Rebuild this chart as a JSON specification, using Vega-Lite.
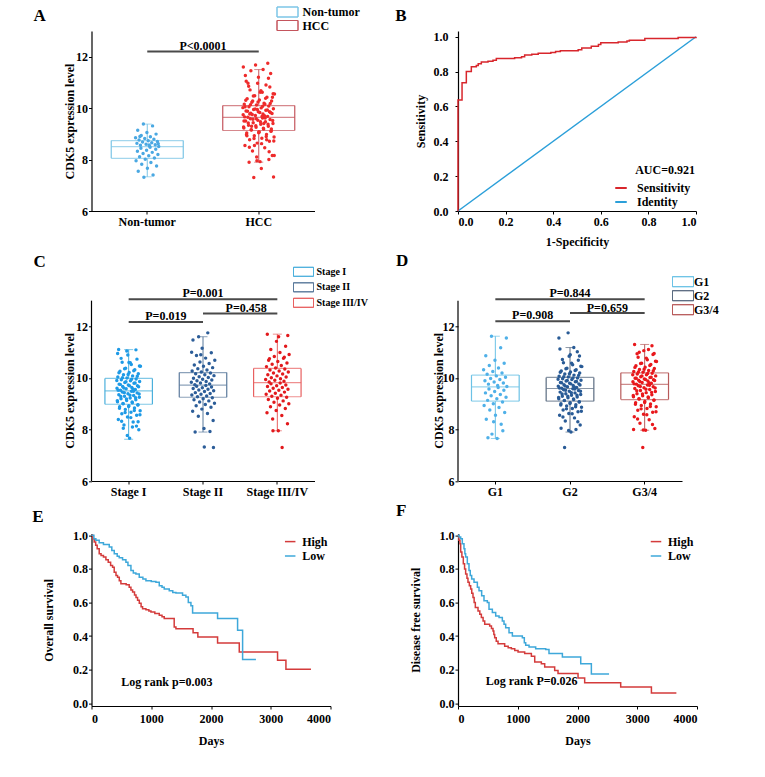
{
"$schema": "https://vega.github.io/schema/vega-lite/v6.json",
"padding": {"left": 31.5, "top": 6, "right": 5, "bottom": 5},
"background": "white",
"config": {
 "font": "Liberation Serif",
 "view": {"stroke": null},
 "axis": {"labelFont": "Liberation Serif", "labelFontSize": 12, "labelFontWeight": "bold", "labelColor": "#000", "titleFont": "Liberation Serif", "titleFontSize": 12, "titleFontWeight": "bold", "titleColor": "#000", "domainColor": "#000", "tickColor": "#000", "grid": false, "tickSize": 3, "labelPadding": 2, "domainWidth": 1.2, "labelOverlap": false},
 "legend": {"labelFont": "Liberation Serif", "labelFontWeight": "bold", "labelFontSize": 12, "labelColor": "#000"},
 "title": {"font": "Liberation Serif", "fontSize": 17, "fontWeight": "bold", "color": "#000", "anchor": "start", "frame": "group"},
 "text": {"font": "Liberation Serif", "fontWeight": "bold", "fontSize": 12, "color": "#000"}
},
"datasets": {
 "boxA": [{"g":"N","q1":8.05,"med":8.5,"q3":8.74,"lo":7.33,"hi":9.38},{"g":"H","q1":9.13,"med":9.64,"q3":10.1,"lo":7.9,"hi":11.5}],
 "boxC": [{"g":"S1","q1":8.98,"med":9.5,"q3":9.98,"lo":7.62,"hi":11.1},{"g":"S2","q1":9.25,"med":9.72,"q3":10.21,"lo":7.9,"hi":11.6},{"g":"S3","q1":9.27,"med":9.82,"q3":10.37,"lo":7.95,"hi":11.7}],
 "boxD": [{"g":"G1","q1":9.1,"med":9.65,"q3":10.11,"lo":7.65,"hi":11.62},{"g":"G2","q1":9.1,"med":9.59,"q3":10.02,"lo":7.9,"hi":11.18},{"g":"G3","q1":9.16,"med":9.75,"q3":10.2,"lo":7.97,"hi":11.3}],
 "ptsA": [
{"g":"N","v":8.48},{"g":"N","v":8.44},{"g":"N","v":8.40},{"g":"N","v":8.36},{"g":"N","v":8.32},{"g":"N","v":8.28},{"g":"N","v":8.24},{"g":"N","v":8.20},{"g":"N","v":8.15},{"g":"N","v":8.11},{"g":"N","v":8.06},{"g":"N","v":8.01},{"g":"N","v":7.95},{"g":"N","v":7.89},{"g":"N","v":7.82},{"g":"N","v":7.75},{"g":"N","v":7.66},{"g":"N","v":7.55},{"g":"N","v":7.40},{"g":"N","v":7.31},
{"g":"N","v":8.51},{"g":"N","v":8.53},{"g":"N","v":8.56},{"g":"N","v":8.58},{"g":"N","v":8.60},{"g":"N","v":8.63},{"g":"N","v":8.65},{"g":"N","v":8.68},{"g":"N","v":8.70},{"g":"N","v":8.73},{"g":"N","v":8.76},{"g":"N","v":8.79},{"g":"N","v":8.82},{"g":"N","v":8.85},{"g":"N","v":8.89},{"g":"N","v":8.94},{"g":"N","v":8.99},{"g":"N","v":9.05},{"g":"N","v":9.14},{"g":"N","v":9.31},
{"g":"N","v":9.38},{"g":"N","v":8.62},{"g":"N","v":8.57},{"g":"N","v":8.90},
{"g":"H","v":9.62},{"g":"H","v":9.59},{"g":"H","v":9.56},{"g":"H","v":9.53},{"g":"H","v":9.50},{"g":"H","v":9.47},{"g":"H","v":9.43},{"g":"H","v":9.40},{"g":"H","v":9.37},{"g":"H","v":9.33},{"g":"H","v":9.30},{"g":"H","v":9.26},{"g":"H","v":9.23},{"g":"H","v":9.19},{"g":"H","v":9.15},{"g":"H","v":9.11},{"g":"H","v":9.07},{"g":"H","v":9.03},{"g":"H","v":8.98},{"g":"H","v":8.93},{"g":"H","v":8.88},{"g":"H","v":8.83},{"g":"H","v":8.77},{"g":"H","v":8.71},{"g":"H","v":8.64},{"g":"H","v":8.55},{"g":"H","v":8.46},{"g":"H","v":8.33},{"g":"H","v":8.16},{"g":"H","v":7.92},
{"g":"H","v":9.65},{"g":"H","v":9.68},{"g":"H","v":9.71},{"g":"H","v":9.74},{"g":"H","v":9.77},{"g":"H","v":9.80},{"g":"H","v":9.83},{"g":"H","v":9.86},{"g":"H","v":9.89},{"g":"H","v":9.92},{"g":"H","v":9.95},{"g":"H","v":9.98},{"g":"H","v":10.01},{"g":"H","v":10.05},{"g":"H","v":10.08},{"g":"H","v":10.12},{"g":"H","v":10.15},{"g":"H","v":10.19},{"g":"H","v":10.23},{"g":"H","v":10.28},{"g":"H","v":10.32},{"g":"H","v":10.37},{"g":"H","v":10.42},{"g":"H","v":10.48},{"g":"H","v":10.55},{"g":"H","v":10.62},{"g":"H","v":10.71},{"g":"H","v":10.82},{"g":"H","v":10.97},{"g":"H","v":11.27},
{"g":"H","v":9.62},{"g":"H","v":9.57},{"g":"H","v":9.52},{"g":"H","v":9.47},{"g":"H","v":9.42},{"g":"H","v":9.37},{"g":"H","v":9.32},{"g":"H","v":9.27},{"g":"H","v":9.22},{"g":"H","v":9.16},{"g":"H","v":9.10},{"g":"H","v":9.04},{"g":"H","v":8.97},{"g":"H","v":8.90},{"g":"H","v":8.82},{"g":"H","v":8.72},{"g":"H","v":8.62},{"g":"H","v":8.48},{"g":"H","v":8.30},{"g":"H","v":7.95},
{"g":"H","v":9.66},{"g":"H","v":9.70},{"g":"H","v":9.75},{"g":"H","v":9.79},{"g":"H","v":9.83},{"g":"H","v":9.88},{"g":"H","v":9.93},{"g":"H","v":9.97},{"g":"H","v":10.02},{"g":"H","v":10.07},{"g":"H","v":10.13},{"g":"H","v":10.18},{"g":"H","v":10.24},{"g":"H","v":10.31},{"g":"H","v":10.38},{"g":"H","v":10.47},{"g":"H","v":10.56},{"g":"H","v":10.68},{"g":"H","v":10.85},{"g":"H","v":11.16},
{"g":"H","v":9.59},{"g":"H","v":9.50},{"g":"H","v":9.40},{"g":"H","v":9.30},{"g":"H","v":9.19},{"g":"H","v":9.07},{"g":"H","v":8.93},{"g":"H","v":8.77},{"g":"H","v":8.55},{"g":"H","v":8.16},
{"g":"H","v":9.68},{"g":"H","v":9.77},{"g":"H","v":9.86},{"g":"H","v":9.95},{"g":"H","v":10.05},{"g":"H","v":10.15},{"g":"H","v":10.28},{"g":"H","v":10.42},{"g":"H","v":10.62},{"g":"H","v":10.97},
{"g":"H","v":11.75},{"g":"H","v":11.68},{"g":"H","v":11.60},{"g":"H","v":11.50},{"g":"H","v":11.45},{"g":"H","v":11.35},{"g":"H","v":11.20},{"g":"H","v":11.05},{"g":"H","v":10.90},{"g":"H","v":7.30},{"g":"H","v":7.32},{"g":"H","v":7.65},{"g":"H","v":7.90},{"g":"H","v":8.00},{"g":"H","v":8.10}
 ],
 "ptsC": [
{"g":"S1","v":9.48},{"g":"S1","v":9.45},{"g":"S1","v":9.42},{"g":"S1","v":9.39},{"g":"S1","v":9.35},{"g":"S1","v":9.32},{"g":"S1","v":9.29},{"g":"S1","v":9.25},{"g":"S1","v":9.22},{"g":"S1","v":9.19},{"g":"S1","v":9.15},{"g":"S1","v":9.12},{"g":"S1","v":9.08},{"g":"S1","v":9.04},{"g":"S1","v":9.00},{"g":"S1","v":8.96},{"g":"S1","v":8.92},{"g":"S1","v":8.88},{"g":"S1","v":8.83},{"g":"S1","v":8.78},{"g":"S1","v":8.73},{"g":"S1","v":8.67},{"g":"S1","v":8.61},{"g":"S1","v":8.55},{"g":"S1","v":8.48},{"g":"S1","v":8.39},{"g":"S1","v":8.29},{"g":"S1","v":8.17},{"g":"S1","v":7.99},{"g":"S1","v":7.66},
{"g":"S1","v":9.52},{"g":"S1","v":9.55},{"g":"S1","v":9.58},{"g":"S1","v":9.60},{"g":"S1","v":9.63},{"g":"S1","v":9.67},{"g":"S1","v":9.70},{"g":"S1","v":9.73},{"g":"S1","v":9.76},{"g":"S1","v":9.79},{"g":"S1","v":9.82},{"g":"S1","v":9.86},{"g":"S1","v":9.89},{"g":"S1","v":9.93},{"g":"S1","v":9.96},{"g":"S1","v":10.00},{"g":"S1","v":10.04},{"g":"S1","v":10.08},{"g":"S1","v":10.12},{"g":"S1","v":10.16},{"g":"S1","v":10.21},{"g":"S1","v":10.26},{"g":"S1","v":10.32},{"g":"S1","v":10.38},{"g":"S1","v":10.45},{"g":"S1","v":10.52},{"g":"S1","v":10.61},{"g":"S1","v":10.73},{"g":"S1","v":10.89},{"g":"S1","v":11.10},
{"g":"S1","v":9.48},{"g":"S1","v":9.43},{"g":"S1","v":9.38},{"g":"S1","v":9.33},{"g":"S1","v":9.28},{"g":"S1","v":9.23},{"g":"S1","v":9.18},{"g":"S1","v":9.12},{"g":"S1","v":9.07},{"g":"S1","v":9.01},{"g":"S1","v":8.95},{"g":"S1","v":8.89},{"g":"S1","v":8.82},{"g":"S1","v":8.74},{"g":"S1","v":8.66},{"g":"S1","v":8.57},{"g":"S1","v":8.46},{"g":"S1","v":8.32},{"g":"S1","v":8.13},{"g":"S1","v":7.77},
{"g":"S1","v":9.52},{"g":"S1","v":9.57},{"g":"S1","v":9.61},{"g":"S1","v":9.66},{"g":"S1","v":9.70},{"g":"S1","v":9.75},{"g":"S1","v":9.80},{"g":"S1","v":9.85},{"g":"S1","v":9.90},{"g":"S1","v":9.95},{"g":"S1","v":10.01},{"g":"S1","v":10.07},{"g":"S1","v":10.13},{"g":"S1","v":10.20},{"g":"S1","v":10.28},{"g":"S1","v":10.36},{"g":"S1","v":10.46},{"g":"S1","v":10.59},{"g":"S1","v":10.76},{"g":"S1","v":11.09},
{"g":"S1","v":11.05},{"g":"S1","v":10.95},{"g":"S1","v":8.10},{"g":"S1","v":8.05},{"g":"S1","v":8.30},{"g":"S1","v":10.60},
{"g":"S2","v":9.71},{"g":"S2","v":9.68},{"g":"S2","v":9.65},{"g":"S2","v":9.62},{"g":"S2","v":9.59},{"g":"S2","v":9.56},{"g":"S2","v":9.53},{"g":"S2","v":9.50},{"g":"S2","v":9.47},{"g":"S2","v":9.43},{"g":"S2","v":9.40},{"g":"S2","v":9.37},{"g":"S2","v":9.34},{"g":"S2","v":9.30},{"g":"S2","v":9.27},{"g":"S2","v":9.23},{"g":"S2","v":9.19},{"g":"S2","v":9.15},{"g":"S2","v":9.11},{"g":"S2","v":9.07},{"g":"S2","v":9.02},{"g":"S2","v":8.97},{"g":"S2","v":8.92},{"g":"S2","v":8.86},{"g":"S2","v":8.79},{"g":"S2","v":8.71},{"g":"S2","v":8.62},{"g":"S2","v":8.51},{"g":"S2","v":8.35},{"g":"S2","v":8.04},
{"g":"S2","v":9.74},{"g":"S2","v":9.77},{"g":"S2","v":9.80},{"g":"S2","v":9.83},{"g":"S2","v":9.86},{"g":"S2","v":9.89},{"g":"S2","v":9.92},{"g":"S2","v":9.95},{"g":"S2","v":9.99},{"g":"S2","v":10.02},{"g":"S2","v":10.05},{"g":"S2","v":10.09},{"g":"S2","v":10.12},{"g":"S2","v":10.16},{"g":"S2","v":10.19},{"g":"S2","v":10.23},{"g":"S2","v":10.27},{"g":"S2","v":10.31},{"g":"S2","v":10.36},{"g":"S2","v":10.40},{"g":"S2","v":10.45},{"g":"S2","v":10.50},{"g":"S2","v":10.56},{"g":"S2","v":10.62},{"g":"S2","v":10.69},{"g":"S2","v":10.77},{"g":"S2","v":10.87},{"g":"S2","v":10.98},{"g":"S2","v":11.15},{"g":"S2","v":11.47},
{"g":"S2","v":11.75},{"g":"S2","v":11.60},{"g":"S2","v":7.30},{"g":"S2","v":7.32},{"g":"S2","v":7.90},{"g":"S2","v":7.92},{"g":"S2","v":10.90},{"g":"S2","v":11.00},
{"g":"S3","v":9.80},{"g":"S3","v":9.77},{"g":"S3","v":9.73},{"g":"S3","v":9.70},{"g":"S3","v":9.67},{"g":"S3","v":9.63},{"g":"S3","v":9.60},{"g":"S3","v":9.56},{"g":"S3","v":9.52},{"g":"S3","v":9.49},{"g":"S3","v":9.45},{"g":"S3","v":9.41},{"g":"S3","v":9.37},{"g":"S3","v":9.33},{"g":"S3","v":9.29},{"g":"S3","v":9.25},{"g":"S3","v":9.21},{"g":"S3","v":9.16},{"g":"S3","v":9.11},{"g":"S3","v":9.06},{"g":"S3","v":9.00},{"g":"S3","v":8.95},{"g":"S3","v":8.88},{"g":"S3","v":8.81},{"g":"S3","v":8.74},{"g":"S3","v":8.65},{"g":"S3","v":8.54},{"g":"S3","v":8.41},{"g":"S3","v":8.22},{"g":"S3","v":7.95},
{"g":"S3","v":9.84},{"g":"S3","v":9.87},{"g":"S3","v":9.91},{"g":"S3","v":9.94},{"g":"S3","v":9.97},{"g":"S3","v":10.01},{"g":"S3","v":10.04},{"g":"S3","v":10.08},{"g":"S3","v":10.12},{"g":"S3","v":10.15},{"g":"S3","v":10.19},{"g":"S3","v":10.23},{"g":"S3","v":10.27},{"g":"S3","v":10.31},{"g":"S3","v":10.35},{"g":"S3","v":10.39},{"g":"S3","v":10.44},{"g":"S3","v":10.48},{"g":"S3","v":10.53},{"g":"S3","v":10.58},{"g":"S3","v":10.64},{"g":"S3","v":10.69},{"g":"S3","v":10.76},{"g":"S3","v":10.83},{"g":"S3","v":10.91},{"g":"S3","v":10.99},{"g":"S3","v":11.10},{"g":"S3","v":11.23},{"g":"S3","v":11.42},{"g":"S3","v":11.70},
{"g":"S3","v":7.30},{"g":"S3","v":7.95},{"g":"S3","v":11.65},{"g":"S3","v":11.60},{"g":"S3","v":10.75},{"g":"S3","v":10.80}
 ],
 "ptsD": [
{"g":"G1","v":9.63},{"g":"G1","v":9.57},{"g":"G1","v":9.52},{"g":"G1","v":9.47},{"g":"G1","v":9.42},{"g":"G1","v":9.36},{"g":"G1","v":9.31},{"g":"G1","v":9.25},{"g":"G1","v":9.19},{"g":"G1","v":9.13},{"g":"G1","v":9.07},{"g":"G1","v":9.00},{"g":"G1","v":8.93},{"g":"G1","v":8.85},{"g":"G1","v":8.76},{"g":"G1","v":8.66},{"g":"G1","v":8.55},{"g":"G1","v":8.40},{"g":"G1","v":8.20},{"g":"G1","v":7.82},
{"g":"G1","v":9.67},{"g":"G1","v":9.71},{"g":"G1","v":9.76},{"g":"G1","v":9.80},{"g":"G1","v":9.84},{"g":"G1","v":9.89},{"g":"G1","v":9.94},{"g":"G1","v":9.98},{"g":"G1","v":10.03},{"g":"G1","v":10.08},{"g":"G1","v":10.14},{"g":"G1","v":10.19},{"g":"G1","v":10.25},{"g":"G1","v":10.32},{"g":"G1","v":10.39},{"g":"G1","v":10.48},{"g":"G1","v":10.57},{"g":"G1","v":10.69},{"g":"G1","v":10.86},{"g":"G1","v":11.17},
{"g":"G1","v":11.62},{"g":"G1","v":11.55},{"g":"G1","v":7.65},{"g":"G1","v":7.68},{"g":"G1","v":7.95},{"g":"G1","v":8.30},
{"g":"G2","v":9.58},{"g":"G2","v":9.54},{"g":"G2","v":9.51},{"g":"G2","v":9.48},{"g":"G2","v":9.45},{"g":"G2","v":9.42},{"g":"G2","v":9.39},{"g":"G2","v":9.36},{"g":"G2","v":9.33},{"g":"G2","v":9.29},{"g":"G2","v":9.26},{"g":"G2","v":9.23},{"g":"G2","v":9.19},{"g":"G2","v":9.16},{"g":"G2","v":9.12},{"g":"G2","v":9.08},{"g":"G2","v":9.04},{"g":"G2","v":9.00},{"g":"G2","v":8.96},{"g":"G2","v":8.91},{"g":"G2","v":8.86},{"g":"G2","v":8.81},{"g":"G2","v":8.76},{"g":"G2","v":8.69},{"g":"G2","v":8.62},{"g":"G2","v":8.55},{"g":"G2","v":8.45},{"g":"G2","v":8.33},{"g":"G2","v":8.17},{"g":"G2","v":7.90},
{"g":"G2","v":9.60},{"g":"G2","v":9.63},{"g":"G2","v":9.66},{"g":"G2","v":9.68},{"g":"G2","v":9.71},{"g":"G2","v":9.74},{"g":"G2","v":9.77},{"g":"G2","v":9.79},{"g":"G2","v":9.82},{"g":"G2","v":9.85},{"g":"G2","v":9.88},{"g":"G2","v":9.91},{"g":"G2","v":9.94},{"g":"G2","v":9.97},{"g":"G2","v":10.00},{"g":"G2","v":10.04},{"g":"G2","v":10.07},{"g":"G2","v":10.11},{"g":"G2","v":10.15},{"g":"G2","v":10.19},{"g":"G2","v":10.23},{"g":"G2","v":10.27},{"g":"G2","v":10.32},{"g":"G2","v":10.38},{"g":"G2","v":10.44},{"g":"G2","v":10.51},{"g":"G2","v":10.59},{"g":"G2","v":10.69},{"g":"G2","v":10.84},{"g":"G2","v":11.12},
{"g":"G2","v":9.57},{"g":"G2","v":9.52},{"g":"G2","v":9.48},{"g":"G2","v":9.43},{"g":"G2","v":9.38},{"g":"G2","v":9.33},{"g":"G2","v":9.29},{"g":"G2","v":9.24},{"g":"G2","v":9.18},{"g":"G2","v":9.13},{"g":"G2","v":9.07},{"g":"G2","v":9.01},{"g":"G2","v":8.95},{"g":"G2","v":8.88},{"g":"G2","v":8.80},{"g":"G2","v":8.71},{"g":"G2","v":8.61},{"g":"G2","v":8.48},{"g":"G2","v":8.30},{"g":"G2","v":7.96},
{"g":"G2","v":9.61},{"g":"G2","v":9.65},{"g":"G2","v":9.69},{"g":"G2","v":9.73},{"g":"G2","v":9.77},{"g":"G2","v":9.81},{"g":"G2","v":9.86},{"g":"G2","v":9.90},{"g":"G2","v":9.95},{"g":"G2","v":10.00},{"g":"G2","v":10.05},{"g":"G2","v":10.10},{"g":"G2","v":10.16},{"g":"G2","v":10.22},{"g":"G2","v":10.29},{"g":"G2","v":10.36},{"g":"G2","v":10.45},{"g":"G2","v":10.57},{"g":"G2","v":10.72},{"g":"G2","v":11.02},
{"g":"G2","v":11.75},{"g":"G2","v":11.55},{"g":"G2","v":11.18},{"g":"G2","v":7.30},{"g":"G2","v":10.85},{"g":"G2","v":10.90},{"g":"G2","v":8.05},{"g":"G2","v":8.00},
{"g":"G3","v":9.73},{"g":"G3","v":9.70},{"g":"G3","v":9.66},{"g":"G3","v":9.62},{"g":"G3","v":9.59},{"g":"G3","v":9.55},{"g":"G3","v":9.51},{"g":"G3","v":9.47},{"g":"G3","v":9.43},{"g":"G3","v":9.39},{"g":"G3","v":9.35},{"g":"G3","v":9.31},{"g":"G3","v":9.27},{"g":"G3","v":9.23},{"g":"G3","v":9.18},{"g":"G3","v":9.14},{"g":"G3","v":9.09},{"g":"G3","v":9.04},{"g":"G3","v":8.99},{"g":"G3","v":8.93},{"g":"G3","v":8.88},{"g":"G3","v":8.81},{"g":"G3","v":8.75},{"g":"G3","v":8.67},{"g":"G3","v":8.59},{"g":"G3","v":8.49},{"g":"G3","v":8.38},{"g":"G3","v":8.24},{"g":"G3","v":8.04},{"g":"G3","v":7.97},
{"g":"G3","v":9.76},{"g":"G3","v":9.79},{"g":"G3","v":9.82},{"g":"G3","v":9.85},{"g":"G3","v":9.88},{"g":"G3","v":9.91},{"g":"G3","v":9.93},{"g":"G3","v":9.96},{"g":"G3","v":9.99},{"g":"G3","v":10.02},{"g":"G3","v":10.05},{"g":"G3","v":10.08},{"g":"G3","v":10.12},{"g":"G3","v":10.15},{"g":"G3","v":10.18},{"g":"G3","v":10.22},{"g":"G3","v":10.25},{"g":"G3","v":10.29},{"g":"G3","v":10.33},{"g":"G3","v":10.37},{"g":"G3","v":10.42},{"g":"G3","v":10.47},{"g":"G3","v":10.52},{"g":"G3","v":10.57},{"g":"G3","v":10.64},{"g":"G3","v":10.71},{"g":"G3","v":10.80},{"g":"G3","v":10.91},{"g":"G3","v":11.06},{"g":"G3","v":11.30},
{"g":"G3","v":9.72},{"g":"G3","v":9.67},{"g":"G3","v":9.61},{"g":"G3","v":9.56},{"g":"G3","v":9.50},{"g":"G3","v":9.44},{"g":"G3","v":9.38},{"g":"G3","v":9.32},{"g":"G3","v":9.26},{"g":"G3","v":9.19},{"g":"G3","v":9.13},{"g":"G3","v":9.05},{"g":"G3","v":8.98},{"g":"G3","v":8.89},{"g":"G3","v":8.80},{"g":"G3","v":8.69},{"g":"G3","v":8.57},{"g":"G3","v":8.41},{"g":"G3","v":8.19},{"g":"G3","v":7.98},
{"g":"G3","v":9.77},{"g":"G3","v":9.81},{"g":"G3","v":9.86},{"g":"G3","v":9.90},{"g":"G3","v":9.94},{"g":"G3","v":9.99},{"g":"G3","v":10.03},{"g":"G3","v":10.08},{"g":"G3","v":10.12},{"g":"G3","v":10.17},{"g":"G3","v":10.23},{"g":"G3","v":10.28},{"g":"G3","v":10.34},{"g":"G3","v":10.41},{"g":"G3","v":10.48},{"g":"G3","v":10.56},{"g":"G3","v":10.65},{"g":"G3","v":10.77},{"g":"G3","v":10.94},{"g":"G3","v":11.25},
{"g":"G3","v":7.30},{"g":"G3","v":8.00},{"g":"G3","v":11.10},{"g":"G3","v":11.00},{"g":"G3","v":10.95}
 ],
 "roc": [
{"series":"Sensitivity","fpr":0,"tpr":0},{"series":"Sensitivity","fpr":0,"tpr":0.637},{"series":"Sensitivity","fpr":0.017,"tpr":0.736},{"series":"Sensitivity","fpr":0.035,"tpr":0.8},{"series":"Sensitivity","fpr":0.056,"tpr":0.828},{"series":"Sensitivity","fpr":0.077,"tpr":0.835},{"series":"Sensitivity","fpr":0.085,"tpr":0.845},{"series":"Sensitivity","fpr":0.098,"tpr":0.855},{"series":"Sensitivity","fpr":0.126,"tpr":0.86},{"series":"Sensitivity","fpr":0.147,"tpr":0.865},{"series":"Sensitivity","fpr":0.161,"tpr":0.875},{"series":"Sensitivity","fpr":0.238,"tpr":0.88},{"series":"Sensitivity","fpr":0.267,"tpr":0.885},{"series":"Sensitivity","fpr":0.28,"tpr":0.895},{"series":"Sensitivity","fpr":0.31,"tpr":0.9},{"series":"Sensitivity","fpr":0.337,"tpr":0.905},{"series":"Sensitivity","fpr":0.39,"tpr":0.91},{"series":"Sensitivity","fpr":0.41,"tpr":0.915},{"series":"Sensitivity","fpr":0.43,"tpr":0.92},{"series":"Sensitivity","fpr":0.505,"tpr":0.925},{"series":"Sensitivity","fpr":0.52,"tpr":0.935},{"series":"Sensitivity","fpr":0.56,"tpr":0.945},{"series":"Sensitivity","fpr":0.59,"tpr":0.955},{"series":"Sensitivity","fpr":0.6,"tpr":0.965},{"series":"Sensitivity","fpr":0.673,"tpr":0.97},{"series":"Sensitivity","fpr":0.71,"tpr":0.975},{"series":"Sensitivity","fpr":0.72,"tpr":0.98},{"series":"Sensitivity","fpr":0.785,"tpr":0.99},{"series":"Sensitivity","fpr":0.925,"tpr":0.995},{"series":"Sensitivity","fpr":1,"tpr":1}
 ],
 "ident": [{"series":"Identity","fpr":0,"tpr":0},{"series":"Identity","fpr":1,"tpr":1}],
 "kmE": [
{"grp":"High","t":0,"s":1},{"grp":"High","t":20,"s":0.98},{"grp":"High","t":45,"s":0.96},{"grp":"High","t":70,"s":0.94},{"grp":"High","t":95,"s":0.92},{"grp":"High","t":129,"s":0.89},{"grp":"High","t":160,"s":0.88},{"grp":"High","t":200,"s":0.87},{"grp":"High","t":241,"s":0.855},{"grp":"High","t":280,"s":0.84},{"grp":"High","t":320,"s":0.82},{"grp":"High","t":353,"s":0.81},{"grp":"High","t":380,"s":0.78},{"grp":"High","t":410,"s":0.76},{"grp":"High","t":436,"s":0.75},{"grp":"High","t":465,"s":0.73},{"grp":"High","t":492,"s":0.712},{"grp":"High","t":580,"s":0.705},{"grp":"High","t":631,"s":0.69},{"grp":"High","t":660,"s":0.675},{"grp":"High","t":688,"s":0.663},{"grp":"High","t":720,"s":0.645},{"grp":"High","t":745,"s":0.63},{"grp":"High","t":771,"s":0.613},{"grp":"High","t":800,"s":0.595},{"grp":"High","t":830,"s":0.575},{"grp":"High","t":855,"s":0.563},{"grp":"High","t":911,"s":0.557},{"grp":"High","t":960,"s":0.55},{"grp":"High","t":995,"s":0.544},{"grp":"High","t":1060,"s":0.535},{"grp":"High","t":1134,"s":0.524},{"grp":"High","t":1180,"s":0.515},{"grp":"High","t":1217,"s":0.504},{"grp":"High","t":1384,"s":0.454},{"grp":"High","t":1413,"s":0.444},{"grp":"High","t":1700,"s":0.42},{"grp":"High","t":1780,"s":0.394},{"grp":"High","t":2110,"s":0.359},{"grp":"High","t":2473,"s":0.305},{"grp":"High","t":3114,"s":0.256},{"grp":"High","t":3254,"s":0.202},{"grp":"High","t":3673,"s":0.202},
{"grp":"Low","t":0,"s":1},{"grp":"Low","t":40,"s":0.98},{"grp":"Low","t":73,"s":0.97},{"grp":"Low","t":129,"s":0.955},{"grp":"Low","t":200,"s":0.945},{"grp":"Low","t":297,"s":0.93},{"grp":"Low","t":340,"s":0.91},{"grp":"Low","t":381,"s":0.89},{"grp":"Low","t":430,"s":0.875},{"grp":"Low","t":464,"s":0.867},{"grp":"Low","t":520,"s":0.855},{"grp":"Low","t":576,"s":0.84},{"grp":"Low","t":610,"s":0.82},{"grp":"Low","t":660,"s":0.79},{"grp":"Low","t":700,"s":0.775},{"grp":"Low","t":743,"s":0.77},{"grp":"Low","t":799,"s":0.75},{"grp":"Low","t":860,"s":0.74},{"grp":"Low","t":911,"s":0.73},{"grp":"Low","t":1000,"s":0.725},{"grp":"Low","t":1078,"s":0.72},{"grp":"Low","t":1134,"s":0.7},{"grp":"Low","t":1180,"s":0.69},{"grp":"Low","t":1217,"s":0.68},{"grp":"Low","t":1301,"s":0.67},{"grp":"Low","t":1360,"s":0.66},{"grp":"Low","t":1413,"s":0.656},{"grp":"Low","t":1524,"s":0.643},{"grp":"Low","t":1580,"s":0.633},{"grp":"Low","t":1620,"s":0.6},{"grp":"Low","t":1664,"s":0.58},{"grp":"Low","t":1692,"s":0.537},{"grp":"Low","t":2110,"s":0.504},{"grp":"Low","t":2445,"s":0.435},{"grp":"Low","t":2529,"s":0.26},{"grp":"Low","t":2752,"s":0.26}
 ],
 "kmF": [
{"grp":"High","t":0,"s":1},{"grp":"High","t":15,"s":0.97},{"grp":"High","t":33,"s":0.95},{"grp":"High","t":45,"s":0.9},{"grp":"High","t":65,"s":0.87},{"grp":"High","t":89,"s":0.83},{"grp":"High","t":110,"s":0.8},{"grp":"High","t":128,"s":0.77},{"grp":"High","t":150,"s":0.745},{"grp":"High","t":167,"s":0.72},{"grp":"High","t":190,"s":0.7},{"grp":"High","t":212,"s":0.68},{"grp":"High","t":230,"s":0.655},{"grp":"High","t":251,"s":0.63},{"grp":"High","t":270,"s":0.6},{"grp":"High","t":290,"s":0.57},{"grp":"High","t":335,"s":0.55},{"grp":"High","t":365,"s":0.53},{"grp":"High","t":391,"s":0.51},{"grp":"High","t":420,"s":0.49},{"grp":"High","t":447,"s":0.47},{"grp":"High","t":530,"s":0.46},{"grp":"High","t":560,"s":0.445},{"grp":"High","t":586,"s":0.43},{"grp":"High","t":600,"s":0.41},{"grp":"High","t":614,"s":0.39},{"grp":"High","t":640,"s":0.37},{"grp":"High","t":670,"s":0.355},{"grp":"High","t":781,"s":0.34},{"grp":"High","t":840,"s":0.33},{"grp":"High","t":893,"s":0.325},{"grp":"High","t":950,"s":0.315},{"grp":"High","t":1005,"s":0.305},{"grp":"High","t":1116,"s":0.296},{"grp":"High","t":1228,"s":0.28},{"grp":"High","t":1284,"s":0.246},{"grp":"High","t":1395,"s":0.236},{"grp":"High","t":1451,"s":0.216},{"grp":"High","t":1618,"s":0.196},{"grp":"High","t":1674,"s":0.177},{"grp":"High","t":2009,"s":0.15},{"grp":"High","t":2120,"s":0.123},{"grp":"High","t":2723,"s":0.097},{"grp":"High","t":3237,"s":0.062},{"grp":"High","t":3655,"s":0.062},
{"grp":"Low","t":0,"s":1},{"grp":"Low","t":20,"s":0.99},{"grp":"Low","t":45,"s":0.98},{"grp":"Low","t":72,"s":0.95},{"grp":"Low","t":100,"s":0.92},{"grp":"Low","t":115,"s":0.89},{"grp":"Low","t":128,"s":0.87},{"grp":"Low","t":156,"s":0.83},{"grp":"Low","t":184,"s":0.79},{"grp":"Low","t":205,"s":0.76},{"grp":"Low","t":229,"s":0.74},{"grp":"Low","t":268,"s":0.72},{"grp":"Low","t":324,"s":0.69},{"grp":"Low","t":352,"s":0.67},{"grp":"Low","t":396,"s":0.64},{"grp":"Low","t":435,"s":0.61},{"grp":"Low","t":491,"s":0.6},{"grp":"Low","t":519,"s":0.56},{"grp":"Low","t":575,"s":0.54},{"grp":"Low","t":631,"s":0.52},{"grp":"Low","t":687,"s":0.51},{"grp":"Low","t":742,"s":0.49},{"grp":"Low","t":770,"s":0.47},{"grp":"Low","t":798,"s":0.45},{"grp":"Low","t":854,"s":0.42},{"grp":"Low","t":910,"s":0.4},{"grp":"Low","t":1077,"s":0.39},{"grp":"Low","t":1110,"s":0.36},{"grp":"Low","t":1133,"s":0.345},{"grp":"Low","t":1189,"s":0.335},{"grp":"Low","t":1300,"s":0.325},{"grp":"Low","t":1468,"s":0.32},{"grp":"Low","t":1523,"s":0.296},{"grp":"Low","t":1747,"s":0.276},{"grp":"Low","t":2054,"s":0.235},{"grp":"Low","t":2232,"s":0.175},{"grp":"Low","t":2528,"s":0.175}
 ]
},
"columns": 2,
"spacing": {"row": 52.3, "column": 127.5},
"bounds": "flush",
"align": "each",
"resolve": {"scale": {"x": "independent", "y": "independent", "xOffset": "independent", "color": "independent", "stroke": "independent", "fill": "independent"}, "legend": {"color": "independent", "stroke": "independent", "fill": "independent"}},
"concat": [
{
 "width": 223, "height": 180,
 "title": {"text": "A", "dx": -58, "offset": -18.7},
 "layer": [
  {"data": {"name": "boxA"}, "mark": {"type": "rule", "strokeWidth": 1},
   "encoding": {
    "x": {"field": "g", "type": "nominal", "scale": {"domain": ["N","H"], "paddingInner": 0, "paddingOuter": 0}, "axis": {"title": null, "labelAngle": 0, "labelOverlap": false, "labelExpr": "datum.value == 'N' ? 'Non-tumor' : 'HCC'"}},
    "y": {"field": "lo", "type": "quantitative", "scale": {"domain": [6, 13], "nice": false, "zero": false}, "axis": {"title": "CDK5 expression level", "values": [6,8,10,12], "labelOverlap": false, "titleX": -15, "labelPadding": 1}},
    "y2": {"field": "q1"},
    "stroke": {"field": "g", "type": "nominal", "scale": {"domain": ["N","H"], "range": ["#7cc5e6","#c4555d"]}}
   }},
  {"data": {"name": "boxA"}, "mark": {"type": "rule", "strokeWidth": 1},
   "encoding": {"x": {"field": "g", "type": "nominal"}, "y": {"field": "q3", "type": "quantitative"}, "y2": {"field": "hi"}, "stroke": {"field": "g", "type": "nominal"}}},
  {"data": {"name": "boxA"}, "mark": {"type": "rule", "strokeWidth": 1.2},
   "encoding": {"x": {"field": "g", "type": "nominal"}, "xOffset": {"datum": -1.125}, "y": {"field": "q1", "type": "quantitative"}, "y2": {"field": "q3"},
    "stroke": {"field": "g", "type": "nominal", "legend": {"title": null, "orient": "none", "legendX": 190, "legendY": -25, "symbolType": "M-2.1,-1H2.1V1H-2.1Z M-2.1,-1V1H2.1V-1Z", "symbolSize": 100, "symbolFillColor": "transparent", "symbolStrokeWidth": 1, "labelOffset": 9, "rowPadding": -0.5, "labelExpr": "datum.value == 'N' ? 'Non-tumor' : 'HCC'"}}}},
  {"data": {"name": "boxA"}, "mark": {"type": "rule", "strokeWidth": 1.2},
   "encoding": {"x": {"field": "g", "type": "nominal"}, "xOffset": {"datum": 1.125}, "y": {"field": "q1", "type": "quantitative"}, "y2": {"field": "q3"}, "stroke": {"field": "g", "type": "nominal"}}},
  {"data": {"name": "boxA"}, "transform": [{"fold": ["q1","q3","med"], "as": ["k","yv"]}], "mark": {"type": "tick", "size": 72, "thickness": 1.2},
   "encoding": {"x": {"field": "g", "type": "nominal"}, "y": {"field": "yv", "type": "quantitative"}, "color": {"field": "g", "type": "nominal", "scale": {"domain": ["N","H"], "range": ["#7cc5e6","#c4555d"]}, "legend": null}}},
  {"data": {"name": "boxA"}, "transform": [{"fold": ["lo","hi"], "as": ["k","yv"]}], "mark": {"type": "tick", "size": 9, "thickness": 1},
   "encoding": {"x": {"field": "g", "type": "nominal"}, "y": {"field": "yv", "type": "quantitative"}, "color": {"field": "g", "type": "nominal", "legend": null}}},
  {"data": {"name": "ptsA"},
   "transform": [{"window": [{"op": "row_number", "as": "rn"}], "groupby": ["g"]}, {"calculate": "((datum.rn * 0.618034) % 1 - 0.5) * (datum.g == 'N' ? 0.75 : 1)", "as": "jit"}],
   "mark": {"type": "circle", "size": 12, "opacity": 1},
   "encoding": {"x": {"field": "g", "type": "nominal"}, "xOffset": {"field": "jit", "type": "quantitative", "scale": {"domain": [-1.742, 1.742]}}, "y": {"field": "v", "type": "quantitative"}, "fill": {"field": "g", "type": "nominal", "scale": {"domain": ["N","H"], "range": ["#4aa8e2","#ee2b2b"]}, "legend": null}}},
  {"data": {"values": [{}]}, "mark": {"type": "rule", "strokeWidth": 2, "color": "#4a4a4a"},
   "encoding": {"x": {"datum": "N", "bandPosition": 0.5}, "x2": {"datum": "H", "bandPosition": 0.5}, "y": {"datum": 12.2}}},
  {"data": {"values": [{}]}, "mark": {"type": "text", "text": "P<0.0001", "baseline": "alphabetic"},
   "encoding": {"x": {"datum": "H", "bandPosition": 0}, "y": {"datum": 12.27}}}
 ]
},
{
 "width": 238, "height": 180,
 "title": {"text": "B", "dx": -62.7, "offset": 5.3},
 "resolve": {"axis": {"y": "independent"}},
 "layer": [
  {"data": {"name": "ident"}, "mark": {"type": "line", "strokeWidth": 1.5},
   "encoding": {
    "x": {"field": "fpr", "type": "quantitative", "scale": {"domain": [0, 1], "nice": false}, "axis": {"title": "1-Specificity", "values": [0,0.2,0.4,0.6,0.8,1], "format": ".1f", "labelOverlap": false, "titleY": 25}},
    "y": {"field": "tpr", "type": "quantitative", "scale": {"domain": [0, 1.033], "nice": false}, "axis": {"orient": "left", "title": "Sensitivity", "values": [0,0.4,0.8], "format": ".1f", "labelOverlap": false, "titleX": -31, "labelPadding": 7}},
    "color": {"field": "series", "type": "nominal", "scale": {"domain": ["Sensitivity","Identity"], "range": ["#d8262c","#2b9fd9"]}, "legend": {"title": null, "orient": "none", "legendX": 157, "legendY": 151, "symbolType": "M-2.3,0H2.3", "symbolSize": 25, "symbolStrokeWidth": 2, "labelOffset": 10, "rowPadding": 2}}
   }},
  {"data": {"name": "roc"}, "mark": {"type": "line", "interpolate": "step-after", "strokeWidth": 1.5},
   "encoding": {"x": {"field": "fpr", "type": "quantitative"}, "y": {"field": "tpr", "type": "quantitative", "axis": {"orient": "left", "title": null, "values": [0.2,0.6,1], "format": ".1f", "labelOverlap": false, "domain": false, "labelPadding": 7}}, "color": {"field": "series", "type": "nominal"}}},
  {"data": {"values": [{}]}, "mark": {"type": "text", "text": "AUC=0.921", "baseline": "middle"},
   "encoding": {"x": {"datum": 0.87}, "y": {"datum": 0.235, "axis": null}}}
 ]
},
{
 "width": 223, "height": 217.7,
 "title": {"text": "C", "dx": -58, "offset": -7.9},
 "layer": [
  {"data": {"name": "boxC"}, "mark": {"type": "rule", "strokeWidth": 1},
   "encoding": {
    "x": {"field": "g", "type": "nominal", "scale": {"domain": ["S1","S2","S3"], "paddingInner": 0, "paddingOuter": 0}, "axis": {"title": null, "labelAngle": 0, "labelOverlap": false, "labelExpr": "datum.value == 'S1' ? 'Stage I' : datum.value == 'S2' ? 'Stage II' : 'Stage III/IV'"}},
    "y": {"field": "lo", "type": "quantitative", "scale": {"domain": [6, 14.45], "nice": false, "zero": false}, "axis": {"title": "CDK5 expression level", "values": [6,8,10,12], "labelOverlap": false, "domain": false, "titleX": -15, "titleY": 127, "labelPadding": 1}},
    "y2": {"field": "q1"},
    "stroke": {"field": "g", "type": "nominal", "scale": {"domain": ["S1","S2","S3"], "range": ["#4bb0dc","#5b7a9c","#e86060"]}}
   }},
  {"data": {"name": "boxC"}, "mark": {"type": "rule", "strokeWidth": 1},
   "encoding": {"x": {"field": "g", "type": "nominal"}, "y": {"field": "q3", "type": "quantitative"}, "y2": {"field": "hi"}, "stroke": {"field": "g", "type": "nominal"}}},
  {"data": {"name": "boxC"}, "mark": {"type": "rule", "strokeWidth": 1.2},
   "encoding": {"x": {"field": "g", "type": "nominal"}, "xOffset": {"datum": -0.99}, "y": {"field": "q1", "type": "quantitative"}, "y2": {"field": "q3"},
    "stroke": {"field": "g", "type": "nominal", "legend": {"title": null, "orient": "none", "legendX": 206.5, "legendY": 3, "symbolType": "M-2,-0.9H2V0.9H-2Z M-2,-0.9V0.9H2V-0.9Z", "symbolSize": 100, "symbolFillColor": "transparent", "symbolStrokeWidth": 1, "labelOffset": 7.5, "labelFontSize": 10, "rowPadding": 2.5, "labelExpr": "datum.value == 'S1' ? 'Stage I' : datum.value == 'S2' ? 'Stage II' : 'Stage III/IV'"}}}},
  {"data": {"name": "boxC"}, "mark": {"type": "rule", "strokeWidth": 1.2},
   "encoding": {"x": {"field": "g", "type": "nominal"}, "xOffset": {"datum": 0.99}, "y": {"field": "q1", "type": "quantitative"}, "y2": {"field": "q3"}, "stroke": {"field": "g", "type": "nominal"}}},
  {"data": {"name": "boxC"}, "transform": [{"fold": ["q1","q3","med"], "as": ["k","yv"]}], "mark": {"type": "tick", "size": 47.5, "thickness": 1.2},
   "encoding": {"x": {"field": "g", "type": "nominal"}, "y": {"field": "yv", "type": "quantitative"}, "color": {"field": "g", "type": "nominal", "scale": {"domain": ["S1","S2","S3"], "range": ["#4bb0dc","#5b7a9c","#e86060"]}, "legend": null}}},
  {"data": {"name": "boxC"}, "transform": [{"fold": ["lo","hi"], "as": ["k","yv"]}], "mark": {"type": "tick", "size": 9, "thickness": 1},
   "encoding": {"x": {"field": "g", "type": "nominal"}, "y": {"field": "yv", "type": "quantitative"}, "color": {"field": "g", "type": "nominal", "legend": null}}},
  {"data": {"name": "ptsC"},
   "transform": [{"window": [{"op": "row_number", "as": "rn"}], "groupby": ["g"]}, {"calculate": "(datum.rn * 0.618034) % 1 - 0.5", "as": "jit"}],
   "mark": {"type": "circle", "size": 12, "opacity": 1},
   "encoding": {"x": {"field": "g", "type": "nominal"}, "xOffset": {"field": "jit", "type": "quantitative", "scale": {"domain": [-1.55, 1.55]}}, "y": {"field": "v", "type": "quantitative"}, "fill": {"field": "g", "type": "nominal", "scale": {"domain": ["S1","S2","S3"], "range": ["#1e9ae6","#2c5d98","#e2191c"]}, "legend": null}}},
  {"data": {"values": [{}]}, "mark": {"type": "rule", "color": "#000", "strokeWidth": 1.2},
   "encoding": {"x": {"datum": "S1", "bandPosition": 0}, "y": {"datum": 6}, "y2": {"datum": 13}}},
  {"data": {"values": [{}]}, "mark": {"type": "rule", "strokeWidth": 2, "color": "#4a4a4a"},
   "encoding": {"x": {"datum": "S1", "bandPosition": 0.5}, "x2": {"datum": "S3", "bandPosition": 0.5}, "y": {"datum": 13.05}}},
  {"data": {"values": [{}]}, "mark": {"type": "rule", "strokeWidth": 2, "color": "#4a4a4a"},
   "encoding": {"x": {"datum": "S2", "bandPosition": 0.5}, "x2": {"datum": "S3", "bandPosition": 0.5}, "y": {"datum": 12.5}}},
  {"data": {"values": [{}]}, "mark": {"type": "rule", "strokeWidth": 2, "color": "#4a4a4a"},
   "encoding": {"x": {"datum": "S1", "bandPosition": 0.5}, "x2": {"datum": "S2", "bandPosition": 0.5}, "y": {"datum": 12.17}}},
  {"data": {"values": [{}]}, "mark": {"type": "text", "text": "P=0.001", "baseline": "alphabetic"},
   "encoding": {"x": {"datum": "S2", "bandPosition": 0.5}, "y": {"datum": 13.15}}},
  {"data": {"values": [{}]}, "mark": {"type": "text", "text": "P=0.458", "baseline": "alphabetic", "dx": 6},
   "encoding": {"x": {"datum": "S3", "bandPosition": 0}, "y": {"datum": 12.57}}},
  {"data": {"values": [{}]}, "mark": {"type": "text", "text": "P=0.019", "baseline": "alphabetic"},
   "encoding": {"x": {"datum": "S2", "bandPosition": 0}, "y": {"datum": 12.24}}}
 ]
},
{
 "width": 224, "height": 217.7,
 "title": {"text": "D", "dx": -62, "offset": -7.1},
 "layer": [
  {"data": {"name": "boxD"}, "mark": {"type": "rule", "strokeWidth": 1},
   "encoding": {
    "x": {"field": "g", "type": "nominal", "scale": {"domain": ["G1","G2","G3"], "paddingInner": 0, "paddingOuter": 0}, "axis": {"title": null, "labelAngle": 0, "labelOverlap": false, "labelExpr": "datum.value == 'G3' ? 'G3/4' : datum.value"}},
    "y": {"field": "lo", "type": "quantitative", "scale": {"domain": [6, 14.45], "nice": false, "zero": false}, "axis": {"title": "CDK5 expression level", "values": [6,8,10,12], "labelOverlap": false, "domain": false, "titleX": -13, "titleY": 127, "labelPadding": 1}},
    "y2": {"field": "q1"},
    "stroke": {"field": "g", "type": "nominal", "scale": {"domain": ["G1","G2","G3"], "range": ["#6cc2e6","#5a6b80","#b85a5a"]}}
   }},
  {"data": {"name": "boxD"}, "mark": {"type": "rule", "strokeWidth": 1},
   "encoding": {"x": {"field": "g", "type": "nominal"}, "y": {"field": "q3", "type": "quantitative"}, "y2": {"field": "hi"}, "stroke": {"field": "g", "type": "nominal"}}},
  {"data": {"name": "boxD"}, "mark": {"type": "rule", "strokeWidth": 1.2},
   "encoding": {"x": {"field": "g", "type": "nominal"}, "xOffset": {"datum": -0.99}, "y": {"field": "q1", "type": "quantitative"}, "y2": {"field": "q3"},
    "stroke": {"field": "g", "type": "nominal", "legend": {"title": null, "orient": "none", "legendX": 219, "legendY": 12.4, "symbolType": "M-2.1,-1H2.1V1H-2.1Z M-2.1,-1V1H2.1V-1Z", "symbolSize": 100, "symbolFillColor": "transparent", "symbolStrokeWidth": 1, "labelOffset": 5, "rowPadding": 0, "labelExpr": "datum.value == 'G3' ? 'G3/4' : datum.value"}}}},
  {"data": {"name": "boxD"}, "mark": {"type": "rule", "strokeWidth": 1.2},
   "encoding": {"x": {"field": "g", "type": "nominal"}, "xOffset": {"datum": 0.99}, "y": {"field": "q1", "type": "quantitative"}, "y2": {"field": "q3"}, "stroke": {"field": "g", "type": "nominal"}}},
  {"data": {"name": "boxD"}, "transform": [{"fold": ["q1","q3","med"], "as": ["k","yv"]}], "mark": {"type": "tick", "size": 47.5, "thickness": 1.2},
   "encoding": {"x": {"field": "g", "type": "nominal"}, "y": {"field": "yv", "type": "quantitative"}, "color": {"field": "g", "type": "nominal", "scale": {"domain": ["G1","G2","G3"], "range": ["#6cc2e6","#5a6b80","#b85a5a"]}, "legend": null}}},
  {"data": {"name": "boxD"}, "transform": [{"fold": ["lo","hi"], "as": ["k","yv"]}], "mark": {"type": "tick", "size": 9, "thickness": 1},
   "encoding": {"x": {"field": "g", "type": "nominal"}, "y": {"field": "yv", "type": "quantitative"}, "color": {"field": "g", "type": "nominal", "legend": null}}},
  {"data": {"name": "ptsD"},
   "transform": [{"window": [{"op": "row_number", "as": "rn"}], "groupby": ["g"]}, {"calculate": "(datum.rn * 0.618034) % 1 - 0.5", "as": "jit"}],
   "mark": {"type": "circle", "size": 12, "opacity": 1},
   "encoding": {"x": {"field": "g", "type": "nominal"}, "xOffset": {"field": "jit", "type": "quantitative", "scale": {"domain": [-1.55, 1.55]}}, "y": {"field": "v", "type": "quantitative"}, "fill": {"field": "g", "type": "nominal", "scale": {"domain": ["G1","G2","G3"], "range": ["#4fb0e8","#295b96","#e8181c"]}, "legend": null}}},
  {"data": {"values": [{}]}, "mark": {"type": "rule", "color": "#000", "strokeWidth": 1.2},
   "encoding": {"x": {"datum": "G1", "bandPosition": 0}, "y": {"datum": 6}, "y2": {"datum": 13}}},
  {"data": {"values": [{}]}, "mark": {"type": "rule", "strokeWidth": 2, "color": "#4a4a4a"},
   "encoding": {"x": {"datum": "G1", "bandPosition": 0.5}, "x2": {"datum": "G3", "bandPosition": 0.5}, "y": {"datum": 13.05}}},
  {"data": {"values": [{}]}, "mark": {"type": "rule", "strokeWidth": 2, "color": "#4a4a4a"},
   "encoding": {"x": {"datum": "G2", "bandPosition": 0.5}, "x2": {"datum": "G3", "bandPosition": 0.5}, "y": {"datum": 12.52}}},
  {"data": {"values": [{}]}, "mark": {"type": "rule", "strokeWidth": 2, "color": "#4a4a4a"},
   "encoding": {"x": {"datum": "G1", "bandPosition": 0.5}, "x2": {"datum": "G2", "bandPosition": 0.5}, "y": {"datum": 12.2}}},
  {"data": {"values": [{}]}, "mark": {"type": "text", "text": "P=0.844", "baseline": "alphabetic"},
   "encoding": {"x": {"datum": "G2", "bandPosition": 0.5}, "y": {"datum": 13.15}}},
  {"data": {"values": [{}]}, "mark": {"type": "text", "text": "P=0.659", "baseline": "alphabetic"},
   "encoding": {"x": {"datum": "G3", "bandPosition": 0}, "y": {"datum": 12.57}}},
  {"data": {"values": [{}]}, "mark": {"type": "text", "text": "P=0.908", "baseline": "alphabetic"},
   "encoding": {"x": {"datum": "G2", "bandPosition": 0}, "y": {"datum": 12.27}}}
 ]
},
{
 "width": 239, "height": 172.4,
 "title": {"text": "E", "dx": -59.3, "offset": 3},
 "resolve": {"axis": {"y": "independent"}},
 "layer": [
  {"data": {"name": "kmE"}, "mark": {"type": "line", "interpolate": "step-after", "strokeWidth": 1.5},
   "encoding": {
    "x": {"field": "t", "type": "quantitative", "scale": {"domain": [0, 4000], "nice": false}, "axis": {"title": "Days", "values": [0,1000,2000,3000,4000], "format": "d", "labelOverlap": false, "titleY": 29, "labelPadding": 4}},
    "y": {"field": "s", "type": "quantitative", "scale": {"domain": [-0.016, 1.01], "nice": false, "zero": false}, "axis": {"orient": "left", "title": "Overall survival", "values": [0,0.4,0.8], "format": ".1f", "labelOverlap": false, "titleX": -36, "labelPadding": 1}},
    "color": {"field": "grp", "type": "nominal", "scale": {"domain": ["High","Low"], "range": ["#d43b3b","#3ea8da"]}, "legend": {"title": null, "orient": "none", "legendX": 192.7, "legendY": 2, "symbolType": "M-2.1,0H2.1", "symbolSize": 25, "symbolStrokeWidth": 1.5, "labelOffset": 6, "rowPadding": 2.4}}
   }},
  {"data": {"values": [{}]}, "mark": {"type": "text", "text": "Log rank p=0.003", "baseline": "middle"},
   "encoding": {"x": {"datum": 1262}, "y": {"datum": 0.127, "axis": {"orient": "left", "title": null, "values": [0.2,0.6,1], "format": ".1f", "labelOverlap": false, "domain": false, "labelPadding": 1}}}}
 ]
},
{
 "width": 239, "height": 172.4,
 "title": {"text": "F", "dx": -62, "offset": 9},
 "resolve": {"axis": {"y": "independent"}},
 "layer": [
  {"data": {"name": "kmF"}, "mark": {"type": "line", "interpolate": "step-after", "strokeWidth": 1.5},
   "encoding": {
    "x": {"field": "t", "type": "quantitative", "scale": {"domain": [0, 4000], "nice": false}, "axis": {"title": "Days", "values": [0,1000,2000,3000,4000], "format": "d", "labelOverlap": false, "titleY": 29, "labelPadding": 4}},
    "y": {"field": "s", "type": "quantitative", "scale": {"domain": [-0.016, 1.01], "nice": false, "zero": false}, "axis": {"orient": "left", "title": "Disease free survival", "values": [0,0.4,0.8], "format": ".1f", "labelOverlap": false, "titleX": -36, "labelPadding": 1}},
    "color": {"field": "grp", "type": "nominal", "scale": {"domain": ["High","Low"], "range": ["#d43b3b","#3ea8da"]}, "legend": {"title": null, "orient": "none", "legendX": 192, "legendY": 2, "symbolType": "M-2.1,0H2.1", "symbolSize": 25, "symbolStrokeWidth": 1.5, "labelOffset": 6, "rowPadding": 2.4}}
   }},
  {"data": {"values": [{}]}, "mark": {"type": "text", "text": "Log rank P=0.026", "baseline": "middle"},
   "encoding": {"x": {"datum": 1233}, "y": {"datum": 0.131, "axis": {"orient": "left", "title": null, "values": [0.2,0.6,1], "format": ".1f", "labelOverlap": false, "domain": false, "labelPadding": 1}}}}
 ]
}
]
}
